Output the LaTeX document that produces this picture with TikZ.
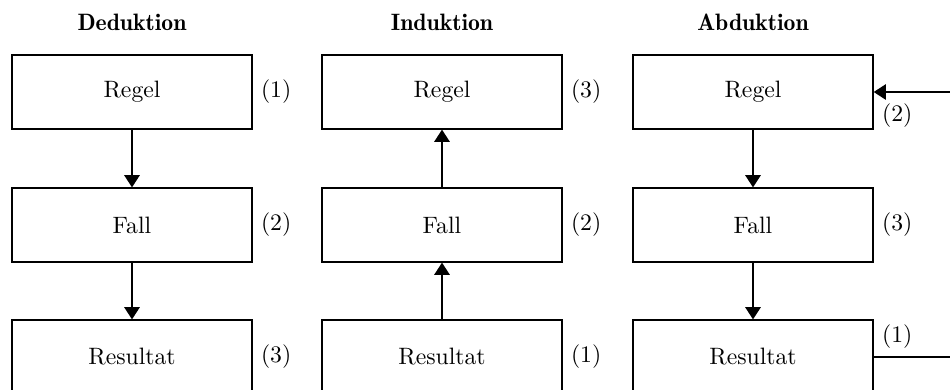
\documentclass[tikz,border=0pt]{standalone}
\usetikzlibrary{arrows.meta}
\begin{document}
\begin{tikzpicture}[x=0.4219pt, y=-0.4219pt,
  stage/.style={draw, line width=0.5pt, minimum width=101.3pt, minimum height=31.2pt, inner sep=0pt},
  heading/.style={font=\fontseries{b}\selectfont},
  flow/.style={line width=1.1pt, -{Triangle[length=5.2pt, width=6.4pt]}},
  plain/.style={line width=1.1pt},
  num/.style={}]
\useasboundingbox (0,0) rectangle (950,389);
\clip (0,0) rectangle (950,389);

% Deduktion
\node[heading] (hD) at (132,22) {Deduktion};
\node[stage] (dR) at (132,92) {Regel};
\node[stage] (dF) at (132,225) {Fall};
\node[stage] (dE) at (132,357) {Resultat};
\node[num, anchor=west] (dRn) at (dR.east) {(1)};
\node[num, anchor=west] (dFn) at (dF.east) {(2)};
\node[num, anchor=west] (dEn) at (dE.east) {(3)};
\draw[flow] (dR.south) -- (dF.north);
\draw[flow] (dF.south) -- (dE.north);

% Induktion
\node[heading] (hI) at (442,22) {Induktion};
\node[stage] (iR) at (442,92) {Regel};
\node[stage] (iF) at (442,225) {Fall};
\node[stage] (iE) at (442,357) {Resultat};
\node[num, anchor=west] (iRn) at (iR.east) {(3)};
\node[num, anchor=west] (iFn) at (iF.east) {(2)};
\node[num, anchor=west] (iEn) at (iE.east) {(1)};
\draw[flow] (iF.north) -- (iR.south);
\draw[flow] (iE.north) -- (iF.south);

% Abduktion
\node[heading] (hA) at (753,22) {Abduktion};
\node[stage] (aR) at (753,92) {Regel};
\node[stage] (aF) at (753,225) {Fall};
\node[stage] (aE) at (753,357) {Resultat};
\node[num, anchor=north west, yshift=-1.5pt] (aRn) at (aR.east) {(2)};
\node[num, anchor=west] (aFn) at (aF.east) {(3)};
\node[num, anchor=south west] (aEn) at (aE.east) {(1)};
\draw[flow] (aR.south) -- (aF.north);
\draw[flow] (aF.south) -- (aE.north);

% feedback from the result back to the rule
\coordinate (outE) at (950,357);
\coordinate (outR) at (950,92);
\draw[plain] (aE.east) -- (outE);
\draw[flow] (outR) -- (aR.east);
\end{tikzpicture}
\end{document}
